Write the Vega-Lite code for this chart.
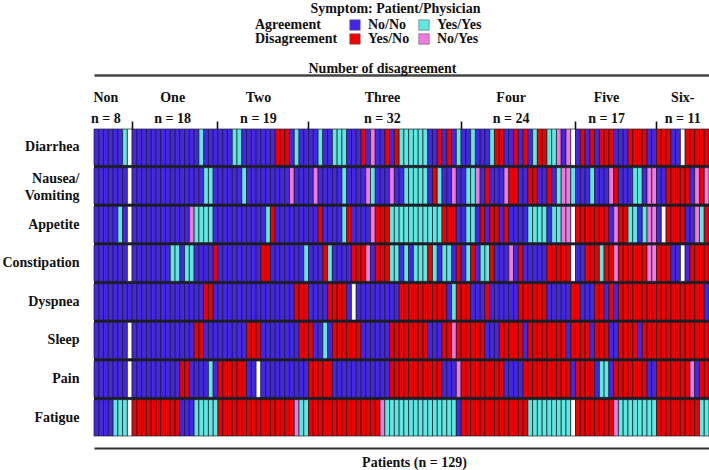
{
"$schema":"https://vega.github.io/schema/vega-lite/v6.json",
"width":615,"height":307,
"autosize":{"type":"none"},
"padding":{"left":94,"top":129,"right":0,"bottom":34},
"background":"white",
"view":{"fill":"#1c1c24","stroke":null},
"title":{"text":"Symptom: Patient/Physician","anchor":"middle","font":"Liberation Serif","fontSize":14,"fontWeight":"bold","color":"#111","offset":2,"dx":-6},
"data":{"values":[
{"p":1,"Diarrhea":"NN","Nausea/Vomiting":"NN","Appetite":"NN","Constipation":"NN","Dyspnea":"NN","Sleep":"NN","Pain":"NN","Fatigue":"NN"},
{"p":2,"Diarrhea":"NN","Nausea/Vomiting":"NN","Appetite":"NN","Constipation":"NN","Dyspnea":"NN","Sleep":"NN","Pain":"NN","Fatigue":"NN"},
{"p":3,"Diarrhea":"NN","Nausea/Vomiting":"NN","Appetite":"NN","Constipation":"NN","Dyspnea":"NN","Sleep":"NN","Pain":"NN","Fatigue":"NN"},
{"p":4,"Diarrhea":"NN","Nausea/Vomiting":"NN","Appetite":"NN","Constipation":"NN","Dyspnea":"NN","Sleep":"NN","Pain":"NN","Fatigue":"NN"},
{"p":5,"Diarrhea":"NN","Nausea/Vomiting":"NN","Appetite":"NN","Constipation":"NN","Dyspnea":"NN","Sleep":"NN","Pain":"NN","Fatigue":"YY"},
{"p":6,"Diarrhea":"NN","Nausea/Vomiting":"NN","Appetite":"YY","Constipation":"NN","Dyspnea":"NN","Sleep":"NN","Pain":"NN","Fatigue":"YY"},
{"p":7,"Diarrhea":"YY","Nausea/Vomiting":"NN","Appetite":"NN","Constipation":"NN","Dyspnea":"NN","Sleep":"NN","Pain":"NN","Fatigue":"YY"},
{"p":8,"Diarrhea":"NA","Nausea/Vomiting":"NA","Appetite":"NA","Constipation":"NA","Dyspnea":"NN","Sleep":"NA","Pain":"NA","Fatigue":"NA"},
{"p":9,"Diarrhea":"NN","Nausea/Vomiting":"NN","Appetite":"NN","Constipation":"NN","Dyspnea":"NN","Sleep":"NN","Pain":"NN","Fatigue":"YN"},
{"p":10,"Diarrhea":"NN","Nausea/Vomiting":"NN","Appetite":"NN","Constipation":"NN","Dyspnea":"NN","Sleep":"NN","Pain":"NN","Fatigue":"YN"},
{"p":11,"Diarrhea":"NN","Nausea/Vomiting":"NN","Appetite":"NN","Constipation":"NN","Dyspnea":"NN","Sleep":"NN","Pain":"NN","Fatigue":"YN"},
{"p":12,"Diarrhea":"NN","Nausea/Vomiting":"NN","Appetite":"NN","Constipation":"NN","Dyspnea":"NN","Sleep":"NN","Pain":"NN","Fatigue":"YN"},
{"p":13,"Diarrhea":"NN","Nausea/Vomiting":"NN","Appetite":"NN","Constipation":"NN","Dyspnea":"NN","Sleep":"NN","Pain":"NN","Fatigue":"YN"},
{"p":14,"Diarrhea":"NN","Nausea/Vomiting":"NN","Appetite":"NN","Constipation":"NN","Dyspnea":"NN","Sleep":"NN","Pain":"NN","Fatigue":"YN"},
{"p":15,"Diarrhea":"NN","Nausea/Vomiting":"NN","Appetite":"NN","Constipation":"NN","Dyspnea":"NN","Sleep":"NN","Pain":"NN","Fatigue":"YN"},
{"p":16,"Diarrhea":"NN","Nausea/Vomiting":"NN","Appetite":"NN","Constipation":"NN","Dyspnea":"NN","Sleep":"NN","Pain":"NN","Fatigue":"YN"},
{"p":17,"Diarrhea":"NN","Nausea/Vomiting":"NN","Appetite":"NN","Constipation":"YY","Dyspnea":"NN","Sleep":"NN","Pain":"NN","Fatigue":"YN"},
{"p":18,"Diarrhea":"NN","Nausea/Vomiting":"NN","Appetite":"NN","Constipation":"YY","Dyspnea":"NN","Sleep":"NN","Pain":"NN","Fatigue":"YN"},
{"p":19,"Diarrhea":"NN","Nausea/Vomiting":"NN","Appetite":"NN","Constipation":"NN","Dyspnea":"NN","Sleep":"NN","Pain":"YN","Fatigue":"NN"},
{"p":20,"Diarrhea":"NN","Nausea/Vomiting":"NN","Appetite":"NN","Constipation":"YY","Dyspnea":"NN","Sleep":"NN","Pain":"YN","Fatigue":"NN"},
{"p":21,"Diarrhea":"NN","Nausea/Vomiting":"NN","Appetite":"NY","Constipation":"YY","Dyspnea":"NN","Sleep":"NN","Pain":"NN","Fatigue":"NN"},
{"p":22,"Diarrhea":"NN","Nausea/Vomiting":"NN","Appetite":"YY","Constipation":"NN","Dyspnea":"NN","Sleep":"YN","Pain":"NN","Fatigue":"YY"},
{"p":23,"Diarrhea":"YY","Nausea/Vomiting":"NN","Appetite":"YY","Constipation":"NN","Dyspnea":"NN","Sleep":"YN","Pain":"NN","Fatigue":"YY"},
{"p":24,"Diarrhea":"NN","Nausea/Vomiting":"YY","Appetite":"YY","Constipation":"NN","Dyspnea":"YN","Sleep":"NN","Pain":"NN","Fatigue":"YY"},
{"p":25,"Diarrhea":"NN","Nausea/Vomiting":"YY","Appetite":"YY","Constipation":"NN","Dyspnea":"YN","Sleep":"NN","Pain":"YY","Fatigue":"YY"},
{"p":26,"Diarrhea":"NN","Nausea/Vomiting":"NN","Appetite":"NN","Constipation":"YN","Dyspnea":"NN","Sleep":"NN","Pain":"NN","Fatigue":"YY"},
{"p":27,"Diarrhea":"NN","Nausea/Vomiting":"NN","Appetite":"NN","Constipation":"NN","Dyspnea":"NN","Sleep":"NN","Pain":"YN","Fatigue":"YN"},
{"p":28,"Diarrhea":"NN","Nausea/Vomiting":"NN","Appetite":"NN","Constipation":"NN","Dyspnea":"NN","Sleep":"NN","Pain":"YN","Fatigue":"YN"},
{"p":29,"Diarrhea":"NN","Nausea/Vomiting":"NN","Appetite":"NN","Constipation":"NN","Dyspnea":"NN","Sleep":"NN","Pain":"YN","Fatigue":"YN"},
{"p":30,"Diarrhea":"YY","Nausea/Vomiting":"NN","Appetite":"NN","Constipation":"NN","Dyspnea":"NN","Sleep":"NN","Pain":"YN","Fatigue":"YN"},
{"p":31,"Diarrhea":"YY","Nausea/Vomiting":"NN","Appetite":"NN","Constipation":"NN","Dyspnea":"NN","Sleep":"NN","Pain":"YN","Fatigue":"YN"},
{"p":32,"Diarrhea":"NN","Nausea/Vomiting":"YY","Appetite":"NN","Constipation":"NN","Dyspnea":"NN","Sleep":"NN","Pain":"YN","Fatigue":"YN"},
{"p":33,"Diarrhea":"NN","Nausea/Vomiting":"NN","Appetite":"NN","Constipation":"NN","Dyspnea":"NN","Sleep":"YN","Pain":"NN","Fatigue":"YN"},
{"p":34,"Diarrhea":"NN","Nausea/Vomiting":"NN","Appetite":"NN","Constipation":"NN","Dyspnea":"NN","Sleep":"YN","Pain":"NN","Fatigue":"YN"},
{"p":35,"Diarrhea":"NN","Nausea/Vomiting":"NN","Appetite":"NN","Constipation":"NN","Dyspnea":"NN","Sleep":"YN","Pain":"NA","Fatigue":"YN"},
{"p":36,"Diarrhea":"NN","Nausea/Vomiting":"NN","Appetite":"NN","Constipation":"YN","Dyspnea":"NN","Sleep":"NN","Pain":"NN","Fatigue":"YN"},
{"p":37,"Diarrhea":"NN","Nausea/Vomiting":"NN","Appetite":"YY","Constipation":"YN","Dyspnea":"NN","Sleep":"NN","Pain":"NN","Fatigue":"YN"},
{"p":38,"Diarrhea":"NN","Nausea/Vomiting":"NN","Appetite":"YN","Constipation":"NN","Dyspnea":"NN","Sleep":"NN","Pain":"NN","Fatigue":"YN"},
{"p":39,"Diarrhea":"YN","Nausea/Vomiting":"NN","Appetite":"NN","Constipation":"NN","Dyspnea":"NN","Sleep":"NN","Pain":"NN","Fatigue":"YN"},
{"p":40,"Diarrhea":"YN","Nausea/Vomiting":"NN","Appetite":"NN","Constipation":"NN","Dyspnea":"NN","Sleep":"NN","Pain":"NN","Fatigue":"YN"},
{"p":41,"Diarrhea":"YN","Nausea/Vomiting":"NN","Appetite":"NN","Constipation":"NN","Dyspnea":"NN","Sleep":"NN","Pain":"NN","Fatigue":"YN"},
{"p":42,"Diarrhea":"NN","Nausea/Vomiting":"NY","Appetite":"NN","Constipation":"NN","Dyspnea":"NN","Sleep":"NN","Pain":"NN","Fatigue":"YN"},
{"p":43,"Diarrhea":"YY","Nausea/Vomiting":"NN","Appetite":"NN","Constipation":"NN","Dyspnea":"YN","Sleep":"NN","Pain":"NN","Fatigue":"NY"},
{"p":44,"Diarrhea":"NN","Nausea/Vomiting":"NN","Appetite":"NN","Constipation":"NN","Dyspnea":"YN","Sleep":"YN","Pain":"NN","Fatigue":"YY"},
{"p":45,"Diarrhea":"NN","Nausea/Vomiting":"NN","Appetite":"NN","Constipation":"YY","Dyspnea":"YN","Sleep":"YN","Pain":"NN","Fatigue":"YY"},
{"p":46,"Diarrhea":"NN","Nausea/Vomiting":"NN","Appetite":"NN","Constipation":"NN","Dyspnea":"NN","Sleep":"YN","Pain":"YN","Fatigue":"YN"},
{"p":47,"Diarrhea":"NN","Nausea/Vomiting":"NY","Appetite":"NN","Constipation":"NN","Dyspnea":"NN","Sleep":"NN","Pain":"YN","Fatigue":"YN"},
{"p":48,"Diarrhea":"YY","Nausea/Vomiting":"NN","Appetite":"YN","Constipation":"NN","Dyspnea":"NN","Sleep":"NN","Pain":"YN","Fatigue":"YN"},
{"p":49,"Diarrhea":"NN","Nausea/Vomiting":"NN","Appetite":"NN","Constipation":"YN","Dyspnea":"NN","Sleep":"YY","Pain":"YN","Fatigue":"YN"},
{"p":50,"Diarrhea":"NN","Nausea/Vomiting":"NN","Appetite":"NN","Constipation":"YY","Dyspnea":"YN","Sleep":"NN","Pain":"YN","Fatigue":"YN"},
{"p":51,"Diarrhea":"YY","Nausea/Vomiting":"NN","Appetite":"NN","Constipation":"NN","Dyspnea":"YN","Sleep":"YN","Pain":"NN","Fatigue":"YN"},
{"p":52,"Diarrhea":"YY","Nausea/Vomiting":"NN","Appetite":"NN","Constipation":"NN","Dyspnea":"YN","Sleep":"YN","Pain":"NN","Fatigue":"YN"},
{"p":53,"Diarrhea":"YY","Nausea/Vomiting":"YY","Appetite":"YY","Constipation":"NN","Dyspnea":"YN","Sleep":"YN","Pain":"NN","Fatigue":"YN"},
{"p":54,"Diarrhea":"NN","Nausea/Vomiting":"NN","Appetite":"YN","Constipation":"NN","Dyspnea":"NN","Sleep":"YN","Pain":"NN","Fatigue":"YN"},
{"p":55,"Diarrhea":"NN","Nausea/Vomiting":"NN","Appetite":"NN","Constipation":"YN","Dyspnea":"NA","Sleep":"YN","Pain":"NN","Fatigue":"YN"},
{"p":56,"Diarrhea":"NN","Nausea/Vomiting":"NN","Appetite":"NN","Constipation":"YN","Dyspnea":"NN","Sleep":"YN","Pain":"NN","Fatigue":"YN"},
{"p":57,"Diarrhea":"YN","Nausea/Vomiting":"NN","Appetite":"NN","Constipation":"YN","Dyspnea":"NN","Sleep":"NN","Pain":"NN","Fatigue":"YN"},
{"p":58,"Diarrhea":"NN","Nausea/Vomiting":"NY","Appetite":"NN","Constipation":"NY","Dyspnea":"NN","Sleep":"NN","Pain":"NN","Fatigue":"YN"},
{"p":59,"Diarrhea":"NY","Nausea/Vomiting":"YY","Appetite":"NY","Constipation":"NN","Dyspnea":"NN","Sleep":"NN","Pain":"NN","Fatigue":"YN"},
{"p":60,"Diarrhea":"NN","Nausea/Vomiting":"NN","Appetite":"YN","Constipation":"YN","Dyspnea":"NN","Sleep":"NN","Pain":"NN","Fatigue":"YN"},
{"p":61,"Diarrhea":"NN","Nausea/Vomiting":"NN","Appetite":"YN","Constipation":"YN","Dyspnea":"NN","Sleep":"NN","Pain":"NN","Fatigue":"NY"},
{"p":62,"Diarrhea":"YN","Nausea/Vomiting":"NN","Appetite":"YN","Constipation":"YN","Dyspnea":"NN","Sleep":"NN","Pain":"NN","Fatigue":"YY"},
{"p":63,"Diarrhea":"NN","Nausea/Vomiting":"NY","Appetite":"YY","Constipation":"YY","Dyspnea":"NN","Sleep":"YN","Pain":"YN","Fatigue":"YY"},
{"p":64,"Diarrhea":"YN","Nausea/Vomiting":"NN","Appetite":"YY","Constipation":"YY","Dyspnea":"NN","Sleep":"YN","Pain":"YN","Fatigue":"YY"},
{"p":65,"Diarrhea":"YY","Nausea/Vomiting":"NN","Appetite":"YY","Constipation":"NN","Dyspnea":"YN","Sleep":"YN","Pain":"YN","Fatigue":"YY"},
{"p":66,"Diarrhea":"YY","Nausea/Vomiting":"YY","Appetite":"YY","Constipation":"YY","Dyspnea":"YN","Sleep":"YN","Pain":"YN","Fatigue":"YY"},
{"p":67,"Diarrhea":"YY","Nausea/Vomiting":"YY","Appetite":"YY","Constipation":"NN","Dyspnea":"YN","Sleep":"YN","Pain":"YN","Fatigue":"YY"},
{"p":68,"Diarrhea":"YY","Nausea/Vomiting":"YY","Appetite":"YY","Constipation":"YY","Dyspnea":"YN","Sleep":"YN","Pain":"YN","Fatigue":"YY"},
{"p":69,"Diarrhea":"YY","Nausea/Vomiting":"YY","Appetite":"YY","Constipation":"YY","Dyspnea":"YN","Sleep":"YN","Pain":"YN","Fatigue":"YY"},
{"p":70,"Diarrhea":"YY","Nausea/Vomiting":"YY","Appetite":"YY","Constipation":"YY","Dyspnea":"YN","Sleep":"YN","Pain":"YN","Fatigue":"YY"},
{"p":71,"Diarrhea":"NN","Nausea/Vomiting":"NN","Appetite":"YY","Constipation":"YN","Dyspnea":"YN","Sleep":"NN","Pain":"YN","Fatigue":"YY"},
{"p":72,"Diarrhea":"NN","Nausea/Vomiting":"YN","Appetite":"YY","Constipation":"YY","Dyspnea":"YN","Sleep":"NN","Pain":"YN","Fatigue":"YY"},
{"p":73,"Diarrhea":"YN","Nausea/Vomiting":"YY","Appetite":"YY","Constipation":"NN","Dyspnea":"YN","Sleep":"NN","Pain":"YN","Fatigue":"YY"},
{"p":74,"Diarrhea":"NN","Nausea/Vomiting":"NN","Appetite":"YN","Constipation":"YY","Dyspnea":"YN","Sleep":"YN","Pain":"NN","Fatigue":"YY"},
{"p":75,"Diarrhea":"YN","Nausea/Vomiting":"NN","Appetite":"YN","Constipation":"YY","Dyspnea":"NN","Sleep":"YN","Pain":"NN","Fatigue":"YY"},
{"p":76,"Diarrhea":"NN","Nausea/Vomiting":"NY","Appetite":"YN","Constipation":"NN","Dyspnea":"YY","Sleep":"NY","Pain":"NN","Fatigue":"YY"},
{"p":77,"Diarrhea":"YY","Nausea/Vomiting":"NN","Appetite":"NN","Constipation":"YN","Dyspnea":"YN","Sleep":"YN","Pain":"NY","Fatigue":"NN"},
{"p":78,"Diarrhea":"NN","Nausea/Vomiting":"NN","Appetite":"NN","Constipation":"NN","Dyspnea":"YN","Sleep":"YN","Pain":"YN","Fatigue":"YN"},
{"p":79,"Diarrhea":"NN","Nausea/Vomiting":"YY","Appetite":"YY","Constipation":"YY","Dyspnea":"YN","Sleep":"YN","Pain":"YN","Fatigue":"YN"},
{"p":80,"Diarrhea":"YY","Nausea/Vomiting":"YY","Appetite":"YY","Constipation":"YN","Dyspnea":"NN","Sleep":"YN","Pain":"YN","Fatigue":"YN"},
{"p":81,"Diarrhea":"NN","Nausea/Vomiting":"NY","Appetite":"NN","Constipation":"NN","Dyspnea":"NN","Sleep":"YN","Pain":"YN","Fatigue":"YN"},
{"p":82,"Diarrhea":"NN","Nausea/Vomiting":"NN","Appetite":"YN","Constipation":"YY","Dyspnea":"NN","Sleep":"YN","Pain":"YN","Fatigue":"YN"},
{"p":83,"Diarrhea":"NN","Nausea/Vomiting":"YN","Appetite":"NN","Constipation":"YY","Dyspnea":"YN","Sleep":"NN","Pain":"YN","Fatigue":"YN"},
{"p":84,"Diarrhea":"YY","Nausea/Vomiting":"NN","Appetite":"YN","Constipation":"YN","Dyspnea":"NN","Sleep":"NN","Pain":"YN","Fatigue":"YN"},
{"p":85,"Diarrhea":"YN","Nausea/Vomiting":"NN","Appetite":"YN","Constipation":"NN","Dyspnea":"NN","Sleep":"NN","Pain":"YN","Fatigue":"YN"},
{"p":86,"Diarrhea":"YN","Nausea/Vomiting":"NN","Appetite":"NN","Constipation":"NN","Dyspnea":"NN","Sleep":"YN","Pain":"YN","Fatigue":"YN"},
{"p":87,"Diarrhea":"NN","Nausea/Vomiting":"NY","Appetite":"YN","Constipation":"NN","Dyspnea":"NN","Sleep":"YN","Pain":"NN","Fatigue":"YN"},
{"p":88,"Diarrhea":"NN","Nausea/Vomiting":"YN","Appetite":"NN","Constipation":"NY","Dyspnea":"NN","Sleep":"YN","Pain":"NN","Fatigue":"YN"},
{"p":89,"Diarrhea":"YN","Nausea/Vomiting":"YN","Appetite":"NN","Constipation":"NN","Dyspnea":"NN","Sleep":"YN","Pain":"NN","Fatigue":"YN"},
{"p":90,"Diarrhea":"NN","Nausea/Vomiting":"NN","Appetite":"NN","Constipation":"YN","Dyspnea":"YN","Sleep":"YN","Pain":"NN","Fatigue":"YN"},
{"p":91,"Diarrhea":"YN","Nausea/Vomiting":"NN","Appetite":"NN","Constipation":"NN","Dyspnea":"YN","Sleep":"NN","Pain":"YN","Fatigue":"YN"},
{"p":92,"Diarrhea":"NN","Nausea/Vomiting":"YN","Appetite":"YY","Constipation":"NN","Dyspnea":"YN","Sleep":"YN","Pain":"YN","Fatigue":"YY"},
{"p":93,"Diarrhea":"YY","Nausea/Vomiting":"YN","Appetite":"YY","Constipation":"NN","Dyspnea":"YN","Sleep":"YN","Pain":"YN","Fatigue":"YY"},
{"p":94,"Diarrhea":"YN","Nausea/Vomiting":"NN","Appetite":"YY","Constipation":"NN","Dyspnea":"YN","Sleep":"YN","Pain":"YN","Fatigue":"YY"},
{"p":95,"Diarrhea":"YN","Nausea/Vomiting":"NN","Appetite":"YY","Constipation":"NN","Dyspnea":"YN","Sleep":"YN","Pain":"YN","Fatigue":"YY"},
{"p":96,"Diarrhea":"YY","Nausea/Vomiting":"YN","Appetite":"NN","Constipation":"YN","Dyspnea":"NN","Sleep":"YN","Pain":"YN","Fatigue":"YY"},
{"p":97,"Diarrhea":"YY","Nausea/Vomiting":"NN","Appetite":"YY","Constipation":"YN","Dyspnea":"NN","Sleep":"YN","Pain":"YN","Fatigue":"YY"},
{"p":98,"Diarrhea":"NY","Nausea/Vomiting":"YY","Appetite":"YY","Constipation":"YN","Dyspnea":"NN","Sleep":"YN","Pain":"YN","Fatigue":"YY"},
{"p":99,"Diarrhea":"NN","Nausea/Vomiting":"NY","Appetite":"NY","Constipation":"YN","Dyspnea":"NN","Sleep":"YN","Pain":"YN","Fatigue":"YY"},
{"p":100,"Diarrhea":"NY","Nausea/Vomiting":"NY","Appetite":"NY","Constipation":"YN","Dyspnea":"NN","Sleep":"NN","Pain":"YN","Fatigue":"YY"},
{"p":101,"Diarrhea":"NA","Nausea/Vomiting":"YY","Appetite":"NA","Constipation":"NA","Dyspnea":"YN","Sleep":"YN","Pain":"NN","Fatigue":"NA"},
{"p":102,"Diarrhea":"NN","Nausea/Vomiting":"NN","Appetite":"YN","Constipation":"NN","Dyspnea":"YN","Sleep":"YN","Pain":"YN","Fatigue":"YN"},
{"p":103,"Diarrhea":"YN","Nausea/Vomiting":"NN","Appetite":"YN","Constipation":"NN","Dyspnea":"NN","Sleep":"YN","Pain":"YN","Fatigue":"YN"},
{"p":104,"Diarrhea":"NN","Nausea/Vomiting":"NN","Appetite":"YN","Constipation":"YN","Dyspnea":"NN","Sleep":"YN","Pain":"YN","Fatigue":"YN"},
{"p":105,"Diarrhea":"YN","Nausea/Vomiting":"YY","Appetite":"YN","Constipation":"YN","Dyspnea":"NN","Sleep":"NN","Pain":"YN","Fatigue":"YN"},
{"p":106,"Diarrhea":"NN","Nausea/Vomiting":"NN","Appetite":"YN","Constipation":"YN","Dyspnea":"YN","Sleep":"YN","Pain":"NN","Fatigue":"YN"},
{"p":107,"Diarrhea":"YN","Nausea/Vomiting":"NN","Appetite":"YN","Constipation":"YY","Dyspnea":"YN","Sleep":"YN","Pain":"YY","Fatigue":"YN"},
{"p":108,"Diarrhea":"YN","Nausea/Vomiting":"NN","Appetite":"YN","Constipation":"YN","Dyspnea":"NN","Sleep":"YN","Pain":"YY","Fatigue":"YN"},
{"p":109,"Diarrhea":"YN","Nausea/Vomiting":"NY","Appetite":"NN","Constipation":"YN","Dyspnea":"YN","Sleep":"NN","Pain":"NN","Fatigue":"YN"},
{"p":110,"Diarrhea":"NN","Nausea/Vomiting":"YN","Appetite":"NY","Constipation":"NY","Dyspnea":"NN","Sleep":"NN","Pain":"YN","Fatigue":"NY"},
{"p":111,"Diarrhea":"NN","Nausea/Vomiting":"NN","Appetite":"YN","Constipation":"YN","Dyspnea":"YN","Sleep":"YN","Pain":"YN","Fatigue":"YY"},
{"p":112,"Diarrhea":"NN","Nausea/Vomiting":"NN","Appetite":"YN","Constipation":"YN","Dyspnea":"YN","Sleep":"YN","Pain":"YN","Fatigue":"YY"},
{"p":113,"Diarrhea":"YN","Nausea/Vomiting":"NN","Appetite":"YY","Constipation":"YN","Dyspnea":"YN","Sleep":"YN","Pain":"YN","Fatigue":"YY"},
{"p":114,"Diarrhea":"YN","Nausea/Vomiting":"YY","Appetite":"YY","Constipation":"YN","Dyspnea":"YN","Sleep":"YN","Pain":"YN","Fatigue":"YY"},
{"p":115,"Diarrhea":"YN","Nausea/Vomiting":"YY","Appetite":"NN","Constipation":"YN","Dyspnea":"YN","Sleep":"NN","Pain":"YN","Fatigue":"YY"},
{"p":116,"Diarrhea":"YN","Nausea/Vomiting":"NN","Appetite":"YY","Constipation":"YN","Dyspnea":"YN","Sleep":"YN","Pain":"YN","Fatigue":"YY"},
{"p":117,"Diarrhea":"NN","Nausea/Vomiting":"NY","Appetite":"NY","Constipation":"NY","Dyspnea":"YN","Sleep":"YN","Pain":"NN","Fatigue":"YY"},
{"p":118,"Diarrhea":"NN","Nausea/Vomiting":"NY","Appetite":"NY","Constipation":"NY","Dyspnea":"YN","Sleep":"YN","Pain":"NN","Fatigue":"YY"},
{"p":119,"Diarrhea":"YN","Nausea/Vomiting":"NN","Appetite":"NN","Constipation":"YN","Dyspnea":"YN","Sleep":"YN","Pain":"YN","Fatigue":"YN"},
{"p":120,"Diarrhea":"YN","Nausea/Vomiting":"NN","Appetite":"NA","Constipation":"YN","Dyspnea":"YN","Sleep":"YN","Pain":"YN","Fatigue":"YN"},
{"p":121,"Diarrhea":"YN","Nausea/Vomiting":"YN","Appetite":"YN","Constipation":"YN","Dyspnea":"YN","Sleep":"YN","Pain":"YN","Fatigue":"YN"},
{"p":122,"Diarrhea":"NN","Nausea/Vomiting":"YN","Appetite":"YN","Constipation":"NN","Dyspnea":"YN","Sleep":"YN","Pain":"YN","Fatigue":"YN"},
{"p":123,"Diarrhea":"NN","Nausea/Vomiting":"YN","Appetite":"YN","Constipation":"NN","Dyspnea":"YN","Sleep":"YN","Pain":"YN","Fatigue":"YN"},
{"p":124,"Diarrhea":"NA","Nausea/Vomiting":"YN","Appetite":"YN","Constipation":"NA","Dyspnea":"YN","Sleep":"YN","Pain":"YN","Fatigue":"YN"},
{"p":125,"Diarrhea":"YN","Nausea/Vomiting":"YN","Appetite":"NN","Constipation":"NN","Dyspnea":"YN","Sleep":"YN","Pain":"YN","Fatigue":"YN"},
{"p":126,"Diarrhea":"YN","Nausea/Vomiting":"NN","Appetite":"NN","Constipation":"YN","Dyspnea":"YN","Sleep":"YN","Pain":"NY","Fatigue":"YN"},
{"p":127,"Diarrhea":"YN","Nausea/Vomiting":"NY","Appetite":"NY","Constipation":"YN","Dyspnea":"YN","Sleep":"YN","Pain":"NN","Fatigue":"YN"},
{"p":128,"Diarrhea":"YN","Nausea/Vomiting":"YN","Appetite":"YY","Constipation":"YN","Dyspnea":"YN","Sleep":"YN","Pain":"YN","Fatigue":"YY"},
{"p":129,"Diarrhea":"YN","Nausea/Vomiting":"NY","Appetite":"YN","Constipation":"YN","Dyspnea":"NN","Sleep":"YN","Pain":"YN","Fatigue":"YY"}
]},
"transform":[{"fold":["Diarrhea","Nausea/Vomiting","Appetite","Constipation","Dyspnea","Sleep","Pain","Fatigue"],"as":["symptom","code"]}],
"layer":[
{
"mark":{"type":"rect","stroke":"#1f1f2a","strokeWidth":0.7},
"encoding":{
"x":{"field":"p","type":"ordinal","scale":{"paddingInner":0,"paddingOuter":0},
"axis":{"orient":"bottom","offset":12,"domain":true,"domainWidth":2,"domainColor":"#333","ticks":false,"labels":false,"grid":false,
"title":"Patients (n = 129)","titleX":320,"titlePadding":7,"titleFont":"Liberation Serif","titleFontSize":14,"titleFontWeight":"bold","titleColor":"#111"}},
"y":{"field":"symptom","type":"nominal","sort":["Diarrhea","Nausea/Vomiting","Appetite","Constipation","Dyspnea","Sleep","Pain","Fatigue"],
"scale":{"paddingInner":0.06,"paddingOuter":0},
"axis":{"title":null,"domain":false,"ticks":false,"tickSize":0,"labelPadding":15,"labelFont":"Liberation Serif","labelFontSize":14,"labelFontWeight":"bold","labelColor":"#111","labelAlign":"right","labelLineHeight":17,
"labelOffset":{"condition":{"test":"datum.value === 'Nausea/Vomiting'","value":-7},"value":0},
"labelExpr":"datum.value === 'Nausea/Vomiting' ? ['Nausea/', 'Vomiting'] : datum.value"}},
"color":{"field":"code","type":"nominal",
"scale":{"domain":["NN","YY","YN","NY","NA"],"range":["#4427E6","#5EE8E2","#F00000","#EE7ADF","#FFFFFF"]},
"legend":{"orient":"none","legendX":161,"legendY":-111,"padding":0,
"title":["Agreement","Disagreement"],"titleOrient":"left","titleAnchor":"start","titleBaseline":"top","titleLineHeight":14,"titlePadding":10,
"titleFont":"Liberation Serif","titleFontSize":14,"titleFontWeight":"bold","titleColor":"#111",
"columns":2,"columnPadding":7,"rowPadding":0,
"values":["NN","YN","YY","NY"],
"labelExpr":"datum.label === 'NN' ? 'No/No' : datum.label === 'YY' ? 'Yes/Yes' : datum.label === 'YN' ? 'Yes/No' : 'No/Yes'",
"labelFont":"Liberation Serif","labelFontSize":14,"labelFontWeight":"bold","labelColor":"#111","labelOffset":6,
"symbolType":"square","symbolSize":110,"symbolStrokeWidth":0.6,"symbolStrokeColor":"#666"}}
}
},
{
"mark":{"type":"rect","opacity":0},
"encoding":{"x":{"field":"p","type":"ordinal",
"axis":{"orient":"top","offset":0,"values":[9,27,46,78,102,119],"bandPosition":0,"domain":false,"ticks":true,"tickSize":8,"tickWidth":1.6,"tickColor":"#111","labels":false,"grid":false,"title":null}}}
},
{
"mark":{"type":"rect","opacity":0},
"encoding":{"x":{"field":"p","type":"ordinal",
"axis":{"orient":"top","offset":54,"values":[3,17,35,61,88,108,124],"domain":true,"domainWidth":2.5,"domainColor":"#444","ticks":false,"tickSize":0,"grid":false,
"labelAngle":0,"labelAlign":"center","labelPadding":-29,"labelBaseline":"bottom","labelLineHeight":21,"labelOverlap":false,"labelBound":false,"labelFlush":false,
"labelFont":"Liberation Serif","labelFontSize":14,"labelFontWeight":"bold","labelColor":"#111",
"labelExpr":"datum.value == 3 ? ['Non', 'n = 8'] : datum.value == 17 ? ['One', 'n = 18'] : datum.value == 35 ? ['Two', 'n = 19'] : datum.value == 61 ? ['Three', 'n = 32'] : datum.value == 88 ? ['Four', 'n = 24'] : datum.value == 108 ? ['Five', 'n = 17'] : ['Six-', 'n = 11']",
"title":"Number of disagreement","titleX":288,"titleY":-3,"titleBaseline":"alphabetic","titleAlign":"center","titleFont":"Liberation Serif","titleFontSize":14,"titleFontWeight":"bold","titleColor":"#111"}}}
}
],
"resolve":{"axis":{"x":"independent"}}
}
